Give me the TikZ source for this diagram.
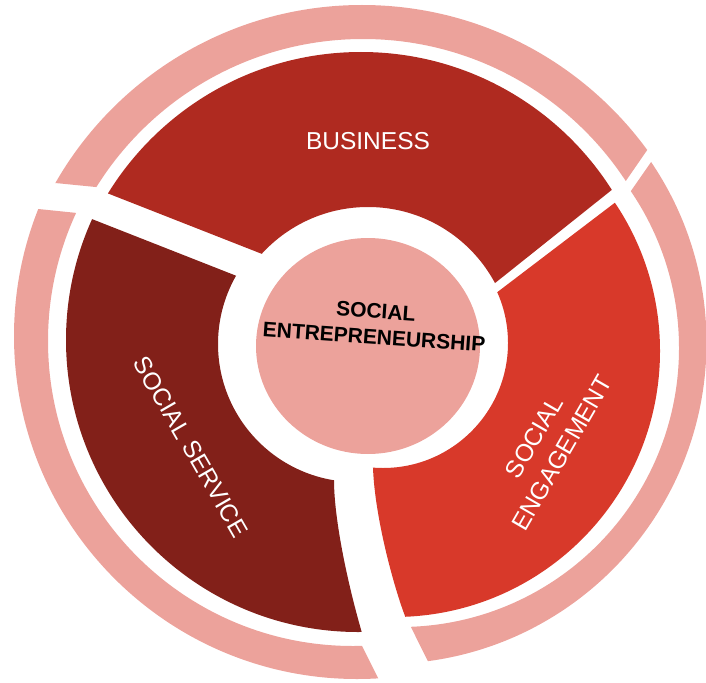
\documentclass[tikz,border=0pt]{standalone}
\usepackage{fontspec}
\setmainfont{Liberation Sans}
\definecolor{pinkring}{HTML}{ECA29B}
\definecolor{busred}{HTML}{AF2A20}
\definecolor{servred}{HTML}{822019}
\definecolor{engred}{HTML}{D8392A}
\tikzset{
  seglabel/.style={text=white, font=\fontsize{24.5}{32}\selectfont, align=center, inner sep=0pt},
  corelabel/.style={text=black, font=\bfseries\fontsize{21}{26}\selectfont, align=center, inner sep=0pt},
  piece/.style={even odd rule}
}
\begin{document}
\begin{tikzpicture}[x=1pt,y=-1pt]
\useasboundingbox (0,0) rectangle (706,682);
% outer pink ring, top arc
\begin{scope}
  \clip (126,190) -- (35,181) -- (35,-20) -- (661,-20) -- (661,130) -- (612,201) -- cycle;
  \fill[pinkring,piece] (362,358) circle[radius=353pt] (363,353) circle[radius=314pt];
\end{scope}
% outer pink ring, right arc
\begin{scope}
  \clip (617,211) -- (665,142) -- (720,142) -- (720,720) -- (457,720) -- (401,607) -- cycle;
  \fill[pinkring,piece] (385,342.5) circle[radius=321.5pt] (400,348) circle[radius=279pt];
\end{scope}
% outer pink ring, left arc
\begin{scope}
  \clip (116,217) -- (-20,203) -- (-20,720) -- (399,720) -- (353,628) -- cycle;
  \fill[pinkring,piece] (357,336) circle[radius=343pt] (353,341) circle[radius=305pt];
\end{scope}
% BUSINESS segment
\begin{scope}
  \clip (308,272) -- (61,175) -- (61,-20) -- (648,-20) -- (648,161) -- (460,311) -- cycle;
  \fill[busred,piece] (361,349) circle[radius=297pt] (368,351) circle[radius=144pt];
\end{scope}
% SOCIAL SERVICE segment
\begin{scope}
  \clip (280,293) -- (46,201) -- (-20,201) -- (-20,720) -- (372,720) -- (368,655) -- (362,633)
        .. controls (348,585) and (334,520) .. (334,480) -- (330,440) -- cycle;
  \fill[servred,piece] (358,340) circle[radius=292pt] (356,344) circle[radius=138pt];
\end{scope}
% SOCIAL ENGAGEMENT segment
\begin{scope}
  \clip (462,319) -- (650,176) -- (720,176) -- (720,720) -- (435,720) -- (412,640) -- (405,616)
        .. controls (395,590) and (375,520) .. (373,468) -- (371,440) -- cycle;
  \fill[engred,piece] (394,351) circle[radius=266pt] (383,343) circle[radius=125pt];
\end{scope}
% core
\fill[pinkring] (368,346) ellipse[x radius=112pt, y radius=108pt];
% labels
\node[seglabel] (business) at (368,141) {BUSINESS};
\node[seglabel, rotate=-60] (service) at (191,447) {SOCIAL SERVICE};
\node[seglabel, rotate=60] (engagement) at (548,445) {SOCIAL\\ENGAGEMENT};
\node[corelabel, rotate=-4] (core) at (375,324) {SOCIAL\\ENTREPRENEURSHIP};
\end{tikzpicture}
\end{document}
